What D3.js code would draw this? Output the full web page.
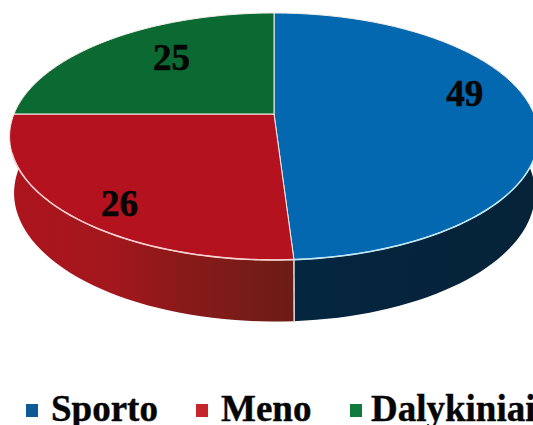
<!DOCTYPE html>
<html>
<head>
<meta charset="utf-8">
<script src="https://cdn.jsdelivr.net/npm/d3@7"></script>
<style>
  html, body { margin: 0; background: #fff; overflow: hidden; }
  svg { display: block; }
</style>
</head>
<body>
<svg id="chart"></svg>
<script>
// data
const categories = ["Sporto", "Meno", "Dalykiniai"];
const values = [49, 26, 25];
const topColors = ["#0468b0", "#b5121f", "#0b6a32"];
const legendColors = ["#0e5a96", "#c4262c", "#107a3c"];

const width = 533, height = 425;

// the pie lies on a tilted disc, so the near side is larger than the far side
const hubX = 274, hubY = 114;
const spreadX = 260, spreadY = 119.4, tilt = 0.182;
// lower rim of the wall is not an exact copy of the top rim
const lowScaleX = 0.985, lowScaleY = 1.04, lowShiftX = 0.5, lowDrop = 55.7;

const labelRadius = [0.776, 0.845, 0.67];
const labelTurn = [-11, -5, 5];  // degrees from middle of the slice
const legendX = [26, 196, 350];
const legendTextX = [51, 221, 371];

const color = d3.scaleOrdinal(categories, topColors);
const legendColor = d3.scaleOrdinal(categories, legendColors);

const project = (angle, r = 1) => {
    const u = Math.sin(angle) * r, v = Math.cos(angle) * r;
    const s = 1 / (1 + tilt * v);
    return [hubX + spreadX * u * s, hubY - spreadY * v * s];
};
const projectLow = angle => {
    const [x, y] = project(angle);
    return [hubX + (x - hubX) * lowScaleX + lowShiftX, hubY + (y - hubY) * lowScaleY + lowDrop];
};
const steps = (a0, a1) => d3.range(0, 61).map(i => a0 + (a1 - a0) * i / 60);

const arcs = d3.pie().sort(null).value(d => d)(values);
const line = d3.line();

const svg = d3.select("#chart")
    .attr("width", width)
    .attr("height", height)
    .attr("viewBox", [0, 0, width, height]);

const defs = svg.append("defs");
const redSide = defs.append("linearGradient").attr("id", "redSide");
[["0%", "#ad141e"], ["35%", "#a3171d"], ["65%", "#861a19"], ["100%", "#6b1d15"]].forEach(s => {
    redSide.append("stop").attr("offset", s[0]).attr("stop-color", s[1]);
});
const blueSide = defs.append("linearGradient").attr("id", "blueSide");
blueSide.append("stop").attr("offset", "0%").attr("stop-color", "#04263f");
blueSide.append("stop").attr("offset", "100%").attr("stop-color", "#062338");

// side wall, only the two front slices show it
const sideRange = [[Math.PI * 0.3, arcs[0].endAngle, "url(#blueSide)"],
                   [arcs[1].startAngle, Math.PI * 1.7, "url(#redSide)"]];
svg.append("g")
    .selectAll("path")
    .data(sideRange)
    .join("path")
    .attr("fill", d => d[2])
    .attr("d", d => {
        const a = steps(d[0], d[1]);
        return line([...a.map(x => project(x)), ...a.reverse().map(projectLow)]) + "Z";
    });

// white edge between the two side walls
svg.append("path")
    .attr("stroke", "#fff")
    .attr("stroke-width", 1.3)
    .attr("d", line([project(arcs[0].endAngle), projectLow(arcs[0].endAngle)]));

// top face
svg.append("g")
    .selectAll("path")
    .data(arcs)
    .join("path")
    .attr("fill", (d, i) => color(categories[i]))
    .attr("stroke", "#f4efe6")
    .attr("stroke-width", 1)
    .attr("stroke-linejoin", "round")
    .attr("d", d => line([[hubX, hubY], ...steps(d.startAngle, d.endAngle).map(a => project(a))]) + "Z");

// bright rim along the front, tinted by the slice under it
const rims = [[Math.PI * 0.59, arcs[0].endAngle, "#bfe8f5"],
              [arcs[1].startAngle, Math.PI * 1.4, "#f9cfcf"]];
svg.append("g")
    .selectAll("path")
    .data(rims)
    .join("path")
    .attr("fill", "none")
    .attr("stroke", d => d[2])
    .attr("stroke-width", 1.6)
    .attr("d", d => line(steps(d[0], d[1]).map(a => project(a))));

// value labels
svg.append("g")
    .attr("font-family", "'Liberation Serif', serif")
    .attr("font-weight", "bold")
    .attr("font-size", 37)
    .attr("text-anchor", "middle")
    .attr("fill", "#060606")
    .attr("stroke", "#060606")
    .attr("stroke-width", 0.6)
    .selectAll("text")
    .data(arcs)
    .join("text")
    .attr("transform", (d, i) => {
        const mid = (d.startAngle + d.endAngle) / 2 + labelTurn[i] * Math.PI / 180;
        const [x, y] = project(mid, labelRadius[i]);
        return `translate(${x},${y})`;
    })
    .attr("dy", "0.33em")
    .text(d => d.data);

// legend
const legend = svg.append("g")
    .selectAll("g")
    .data(categories)
    .join("g");

legend.append("rect")
    .attr("x", (d, i) => legendX[i])
    .attr("y", 404)
    .attr("width", 12)
    .attr("height", 13)
    .attr("fill", d => legendColor(d));

legend.append("text")
    .attr("x", (d, i) => legendTextX[i])
    .attr("y", 421)
    .attr("font-family", "'Liberation Serif', serif")
    .attr("font-weight", "bold")
    .attr("font-size", 37)
    .attr("fill", "#060606")
    .attr("stroke", "#060606")
    .attr("stroke-width", 0.4)
    .text(d => d);
</script>
</body>
</html>
